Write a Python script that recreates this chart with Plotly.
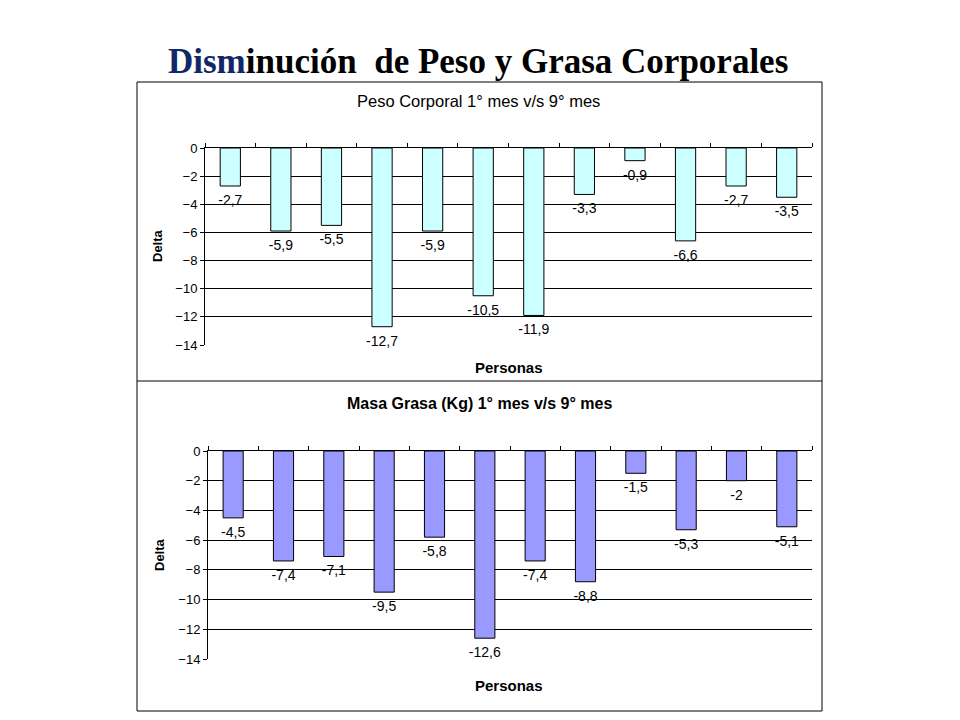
import plotly.graph_objects as go

personas = [str(i) for i in range(1, 13)]
peso_delta = [-2.7, -5.9, -5.5, -12.7, -5.9, -10.5, -11.9, -3.3, -0.9, -6.6, -2.7, -3.5]
grasa_delta = [-4.5, -7.4, -7.1, -9.5, -5.8, -12.6, -7.4, -8.8, -1.5, -5.3, -2.0, -5.1]
y_ticks = [0, -2, -4, -6, -8, -10, -12, -14]

W, H = 960, 720
FONT = "Liberation Sans, Arial, sans-serif"


def px(x):
    return x / W


def py(y):
    return 1 - y / H


def fmt(v):
    return ("%g" % v).replace(".", ",")


fig = go.Figure()

for vals, color, xa, ya in [(peso_delta, "#CCFFFF", "x", "y"),
                            (grasa_delta, "#9999FF", "x2", "y2")]:
    fig.add_trace(go.Bar(
        x=personas, y=vals, xaxis=xa, yaxis=ya,
        marker=dict(color=color, line=dict(color="black", width=1)),
        showlegend=False, hoverinfo="skip",
    ))
    fig.add_trace(go.Scatter(
        x=personas, y=vals, xaxis=xa, yaxis=ya, mode="markers+text",
        marker=dict(size=12, opacity=0),
        text=[fmt(v) for v in vals], textposition="bottom center",
        textfont=dict(family=FONT, size=14, color="black"),
        cliponaxis=False, showlegend=False, hoverinfo="skip",
    ))

xcommon = dict(type="category", side="top", range=[-0.5, len(personas) - 0.5],
               showline=True, linecolor="black",
               linewidth=1, ticks="outside", ticklen=4, tickcolor="black",
               tickson="boundaries", showticklabels=False, showgrid=False,
               zeroline=False)
ycommon = dict(range=[-14, 0], tickvals=y_ticks, showline=True, linecolor="black",
               linewidth=1, ticks="outside", ticklen=4, tickcolor="black",
               showgrid=True, gridcolor="black", gridwidth=1, zeroline=False,
               tickfont=dict(family=FONT, size=13, color="black"))


def ann(text, x, y, size, family=FONT, angle=0):
    return dict(text=text, x=px(x), y=py(y), xref="paper", yref="paper",
                xanchor="center", yanchor="middle", showarrow=False,
                textangle=angle, font=dict(family=family, size=size, color="black"))


fig.update_layout(
    width=W, height=H, margin=dict(l=0, r=0, t=0, b=0, autoexpand=False),
    paper_bgcolor="white", plot_bgcolor="white",
    separators=",.", bargap=0.6,
    xaxis=dict(domain=[px(205), px(812)], anchor="y", **xcommon),
    yaxis=dict(domain=[py(345), py(148)], anchor="x", **ycommon),
    xaxis2=dict(domain=[px(208), px(812)], anchor="y2", **xcommon),
    yaxis2=dict(domain=[py(659), py(451)], anchor="x2", **ycommon),
    shapes=[
        dict(type="rect", xref="paper", yref="paper", x0=px(137), x1=px(822),
             y0=py(711), y1=py(82), line=dict(color="black", width=1)),
        dict(type="line", xref="paper", yref="paper", x0=px(137), x1=px(822),
             y0=py(381), y1=py(381), line=dict(color="black", width=1)),
    ],
    annotations=[
        ann("<b><span style='color:#102868'>Dism</span>inución\u00a0 de Peso y Grasa Corporales</b>",
            478, 61, 35, family="Liberation Serif, Times New Roman, serif"),
        ann("Peso Corporal 1° mes v/s 9° mes", 478, 101, 16.5),
        ann("<b>Masa Grasa (Kg) 1° mes v/s 9° mes</b>", 479, 403, 16),
        ann("<b>Delta</b>", 157, 246, 13, angle=-90),
        ann("<b>Delta</b>", 159, 555, 13, angle=-90),
        ann("<b>Personas</b>", 509, 367, 15),
        ann("<b>Personas</b>", 509, 685, 15),
    ],
)

fig.write_html("out.html", post_script="document.body.style.margin='0';",
               config={"displayModeBar": False})
